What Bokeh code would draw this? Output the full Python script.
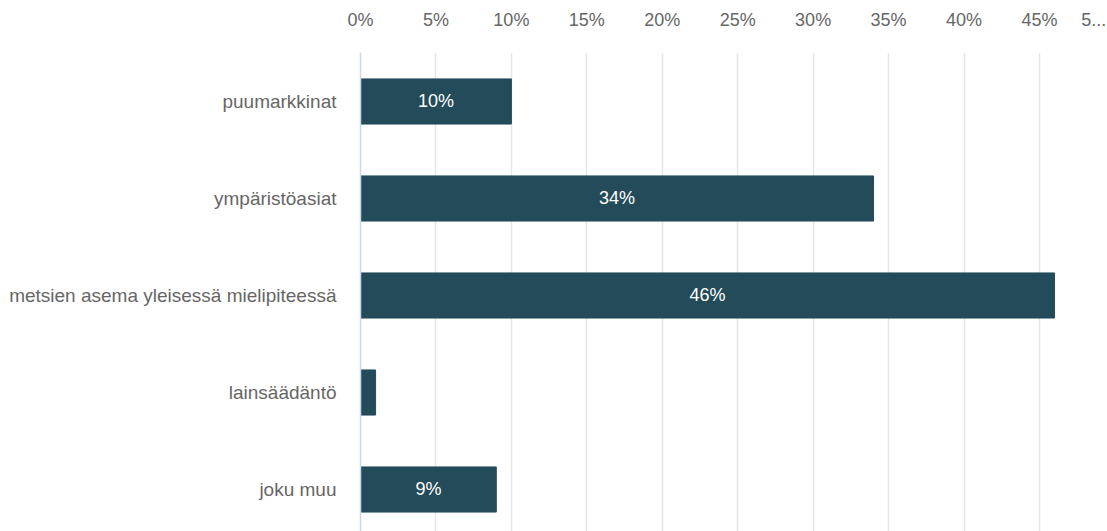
from bokeh.plotting import figure
from bokeh.models import Range1d, FixedTicker, ColumnDataSource, LabelSet
from bokeh.core.properties import value
from bokeh.embed import file_html
from bokeh.resources import INLINE

categories = ["puumarkkinat", "ympäristöasiat", "metsien asema yleisessä mielipiteessä",
              "lainsäädäntö", "joku muu"]
values = [10, 34, 46, 1, 9]
bar_labels = ["10%", "34%", "46%", "", "9%"]
x_ticks = [0, 5, 10, 15, 20, 25, 30, 35, 40, 45]
x_tick_labels = ["0%", "5%", "10%", "15%", "20%", "25%", "30%", "35%", "40%", "45%"]
overflow_tick = 48.6
overflow_label = "5..."

FONT = "Liberation Sans"
BAR = "#234b59"

idx = list(range(len(categories)))
src = ColumnDataSource(dict(y=idx, right=values, mid=[v / 2 for v in values], lab=bar_labels))

p = figure(width=1107, height=531, output_backend="svg", toolbar_location=None,
           x_range=Range1d(0, 48.98), y_range=Range1d(4.433, -0.505),
           x_axis_location="above", min_border_left=360, min_border_top=52,
           min_border_right=8, min_border_bottom=0)
p.outline_line_color = None

p.hbar(y="y", left=0, right="right", height=0.465, color=BAR, source=src)

labels = LabelSet(x="mid", y="y", text="lab", source=src, text_align="center",
                  text_baseline="middle", text_color="#ffffff", text_font_size="18px",
                  text_font=value(FONT))
p.add_layout(labels)

xa = p.xaxis[0]
xa.ticker = FixedTicker(ticks=x_ticks + [overflow_tick])
overrides = {t: l for t, l in zip(x_ticks, x_tick_labels)}
overrides[overflow_tick] = overflow_label
xa.major_label_overrides = overrides
xa.axis_line_color = None
xa.major_tick_line_color = None
xa.minor_tick_line_color = None
xa.major_tick_out = 0
xa.minor_tick_out = 0
xa.major_label_text_font_size = "18px"
xa.major_label_text_color = "#666666"
xa.major_label_text_font = FONT
xa.major_label_standoff = 23

ya = p.yaxis[0]
ya.ticker = FixedTicker(ticks=idx)
ya.major_label_overrides = {i: c for i, c in zip(idx, categories)}
ya.axis_line_color = "#ccd6eb"
ya.axis_line_width = 1.5
ya.major_tick_line_color = None
ya.minor_tick_line_color = None
ya.major_tick_out = 0
ya.minor_tick_out = 0
ya.major_label_text_font_size = "19px"
ya.major_label_text_color = "#666666"
ya.major_label_text_font = FONT
ya.major_label_standoff = 24

p.xgrid.ticker = FixedTicker(ticks=x_ticks)
p.xgrid.grid_line_color = "#e6e6e6"
p.xgrid.grid_line_width = 1.5
p.ygrid.grid_line_color = None

open("out.html", "w").write(file_html(p, INLINE))
